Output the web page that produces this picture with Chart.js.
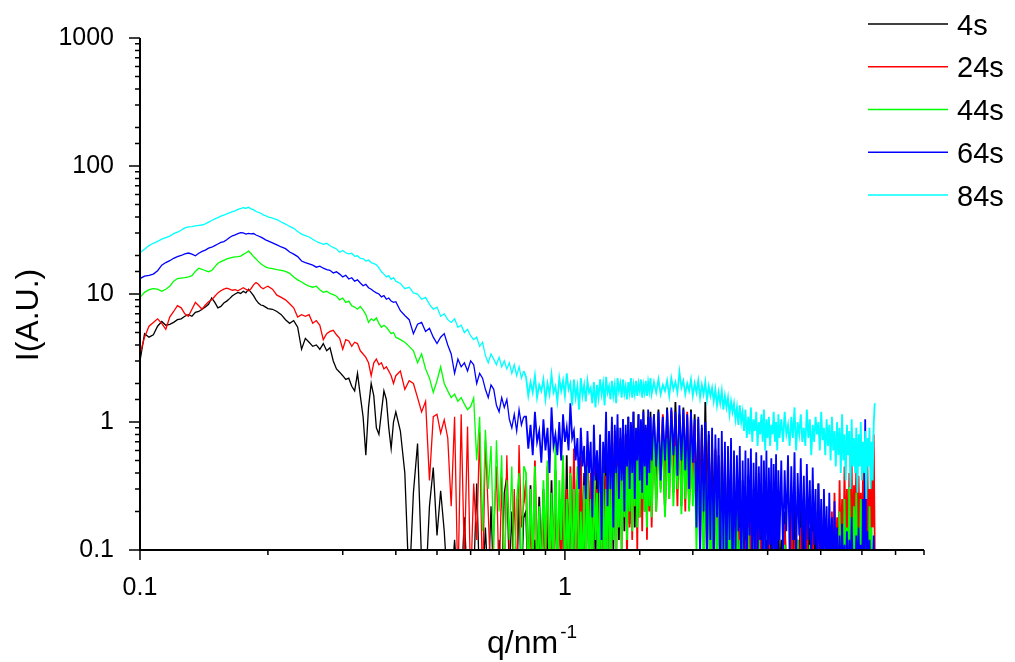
<!DOCTYPE html>
<html>
<head>
<meta charset="utf-8">
<title>I(A.U.) vs q</title>
<script src="https://cdn.jsdelivr.net/npm/chart.js@4.4.1/dist/chart.umd.min.js"></script>
<style>
  html, body { margin: 0; padding: 0; background: #fff; }
  #wrap { width: 1015px; height: 662px; position: relative; }
</style>
</head>
<body>
<div id="wrap"><canvas id="saxsChart"></canvas></div>
<script>
// ── Data ────────────────────────────────────────────
// q grid (nm^-1), shared by every frame
const qValues = [
  0.1, 0.1025, 0.105, 0.1075, 0.11, 0.1125, 0.115, 0.1175, 0.12, 0.1225,
  0.125, 0.1275, 0.13, 0.1325, 0.135, 0.1375, 0.14, 0.1425, 0.145, 0.1475,
  0.15, 0.1525, 0.155, 0.1575, 0.16, 0.1625, 0.165, 0.1675, 0.17, 0.1725,
  0.175, 0.1775, 0.18, 0.1825, 0.185, 0.1875, 0.19, 0.1925, 0.195, 0.1975,
  0.2,
  0.205, 0.21, 0.215, 0.22, 0.225, 0.23, 0.235, 0.24, 0.245, 0.25,
  0.255, 0.26, 0.265, 0.27, 0.275, 0.28, 0.285, 0.29, 0.295, 0.3,
  0.305, 0.31, 0.315, 0.32, 0.325, 0.33, 0.335, 0.34, 0.345, 0.35,
  0.355, 0.36, 0.365, 0.37, 0.375, 0.38, 0.385, 0.39, 0.395, 0.4,
  0.41, 0.42, 0.43, 0.44, 0.45, 0.46, 0.47, 0.48, 0.49, 0.5,
  0.51, 0.52, 0.53, 0.54, 0.55, 0.56, 0.57, 0.58, 0.59, 0.6,
  0.61, 0.62, 0.63, 0.64, 0.65, 0.66, 0.67, 0.68, 0.69, 0.7,
  0.71, 0.72, 0.73, 0.74, 0.75, 0.76, 0.77, 0.78, 0.79, 0.8,
  // noisy part, finer steps
  0.81, 0.82, 0.83, 0.84, 0.85, 0.86, 0.87, 0.88, 0.89, 0.90,
  0.91, 0.92, 0.93, 0.94, 0.95, 0.96, 0.97, 0.98, 0.99, 1.00,
  1.01, 1.02, 1.03, 1.04, 1.05, 1.06, 1.07, 1.08, 1.09, 1.10,
  1.11, 1.12, 1.13, 1.14, 1.15, 1.16, 1.17, 1.18, 1.19, 1.20,
  1.21, 1.22, 1.23, 1.24, 1.25, 1.26, 1.27, 1.28, 1.29, 1.30,
  1.31, 1.32, 1.33, 1.34, 1.35, 1.36, 1.37, 1.38, 1.39, 1.40,
  1.41, 1.42, 1.43, 1.44, 1.45, 1.46, 1.47, 1.48, 1.49, 1.50,
  1.51, 1.52, 1.53, 1.54, 1.55, 1.56, 1.57, 1.58, 1.59, 1.60,
  1.62, 1.64, 1.66, 1.68, 1.70, 1.72, 1.74, 1.76, 1.78, 1.80,
  1.82, 1.84, 1.86, 1.88, 1.90, 1.92, 1.94, 1.96, 1.98, 2.00,
  2.02, 2.04, 2.06, 2.08, 2.10, 2.12, 2.14, 2.16, 2.18, 2.20,
  2.22, 2.24, 2.26, 2.28, 2.30, 2.32, 2.34, 2.36, 2.38, 2.40,
  2.42, 2.44, 2.46, 2.48, 2.50, 2.52, 2.54, 2.56, 2.58, 2.60,
  2.62, 2.64, 2.66, 2.68, 2.70, 2.72, 2.74, 2.76, 2.78, 2.80,
  2.82, 2.84, 2.86, 2.88, 2.90, 2.92, 2.94, 2.96, 2.98, 3.00,
  3.02, 3.04, 3.06, 3.08, 3.10, 3.12, 3.14, 3.16, 3.18, 3.20,
  3.23, 3.26, 3.29, 3.32, 3.35, 3.38, 3.41, 3.44, 3.47, 3.50,
  3.53, 3.56, 3.59, 3.62, 3.65, 3.68, 3.71, 3.74, 3.77, 3.80,
  3.83, 3.86, 3.89, 3.92, 3.95, 3.98, 4.01, 4.04, 4.07, 4.10,
  4.13, 4.16, 4.19, 4.22, 4.25, 4.28, 4.31, 4.34, 4.37, 4.40,
  4.43, 4.46, 4.49, 4.52, 4.55, 4.58, 4.61, 4.64, 4.67, 4.70,
  4.73, 4.76, 4.79, 4.82, 4.85, 4.88, 4.91, 4.94, 4.97, 5.00,
  5.03, 5.06, 5.09, 5.12, 5.15, 5.18, 5.21, 5.24, 5.27, 5.30,
  5.33, 5.36,
];

// intensities (values below 0.1 fall off the bottom of the plot)
const int4s = [
  3.0, 4.9, 4.6, 4.8, 5.6, 6.1, 5.7, 5.8, 6.0, 6.3,
  6.4, 6.7, 6.9, 6.7, 7.2, 7.3, 7.6, 7.9, 8.3, 9.3,
  8.6, 7.8, 8.0, 8.5, 8.8, 9.2, 9.7, 10.0, 10.3, 10.1,
  10.5, 10.2, 10.9, 10.3, 9.7, 9.0, 8.5, 8.2, 8.1, 7.9,
  7.7,
  7.6, 7.3, 6.9, 6.3, 5.9, 6.2, 5.5, 3.7, 4.5, 4.2,
  3.9, 4.0, 3.7, 4.1, 3.6, 3.8, 3.0, 2.6, 2.45, 2.3,
  2.15, 2.2, 1.9, 1.75, 2.4, 1.6, 1.1, 0.55, 1.3, 2.0,
  1.6, 0.9, 0.8, 1.2, 1.75, 1.5, 0.9, 0.62, 1.0, 1.2,
  0.85, 0.40, 0.05, 0.28, 0.68, 0.08, 0.05, 0.22, 0.44, 0.13,
  0.29, 0.14, 0.05, 0.05, 0.12, 0.05, 0.05, 0.18, 0.05, 0.05,
  0.06, 0.33, 0.05, 0.05, 0.15, 0.05, 0.22, 0.05, 0.05, 0.12,
  0.05, 0.28, 0.38, 0.06, 0.20, 0.05, 0.05, 0.25, 0.05, 0.18,
  0.20, 0.05, 0.32, 0.05, 0.12, 0.05, 0.26, 0.07, 0.30, 0.05,
  0.18, 0.05, 0.35, 0.06, 0.42, 0.05, 0.25, 0.08, 0.30, 0.05,
  0.55, 0.06, 0.38, 0.05, 0.45, 0.09, 0.28, 0.05, 0.50, 0.07,
  0.40, 0.05, 0.60, 0.12, 0.35, 0.06, 0.55, 0.08, 0.45, 0.10,
  0.70, 0.07, 0.50, 0.12, 0.85, 0.09, 0.60, 0.15, 1.00, 0.10,
  0.70, 0.18, 0.90, 0.12, 0.75, 0.20, 1.05, 0.14, 0.80, 0.22,
  1.10, 0.16, 0.95, 0.25, 1.20, 0.15, 0.85, 0.30, 1.15, 0.18,
  1.00, 0.28, 1.25, 0.20, 0.90, 0.35, 1.10, 0.22, 1.20, 0.30,
  1.15, 0.25, 1.25, 0.35, 1.10, 0.20, 1.30, 0.40, 1.20, 0.28,
  1.43, 0.35, 1.15, 0.22, 1.30, 0.40, 1.10, 0.21, 1.25, 0.30,
  1.15, 0.20, 1.05, 0.25, 0.90, 0.15, 1.43, 0.22, 0.80, 0.12,
  0.70, 0.18, 0.60, 0.08, 0.55, 0.12, 0.45, 0.06, 0.50, 0.09,
  0.38, 0.05, 0.48, 0.07, 0.30, 0.05, 0.42, 0.06, 0.25, 0.05,
  0.35, 0.05, 0.22, 0.06, 0.38, 0.05, 0.18, 0.05, 0.30, 0.06,
  0.20, 0.05, 0.28, 0.05, 0.15, 0.05, 0.25, 0.06, 0.12, 0.05,
  0.22, 0.05, 0.16, 0.05, 0.30, 0.06, 0.12, 0.05, 0.20, 0.05,
  0.12, 0.05, 0.20, 0.05, 0.10, 0.05, 0.15, 0.05, 0.22, 0.05,
  0.12, 0.05, 0.33, 0.06, 0.18, 0.05, 0.28, 0.05, 0.15, 0.05,
  0.30, 0.06, 0.20, 0.05, 0.33, 0.05, 0.12, 0.05, 0.25, 0.05,
  0.10, 0.05, 0.14, 0.05, 0.11, 0.05, 0.08, 0.05, 0.12, 0.05,
  0.06, 0.05, 0.10, 0.05, 0.05, 0.05, 0.09, 0.05, 0.12, 0.05,
  0.05, 0.05, 0.08, 0.05, 0.11, 0.05, 0.05, 0.05, 0.07, 0.05,
  0.10, 0.05, 0.05, 0.05, 0.08, 0.05, 0.06, 0.05, 0.09, 0.05,
  0.05, 0.05,
];

const int24s = [
  3.4, 4.6, 5.6, 6.0, 6.4, 5.9, 5.3, 6.6, 7.3, 8.1,
  7.8, 7.0, 6.7, 7.6, 8.6, 8.1, 7.6, 8.2, 8.7, 9.0,
  9.6, 10.2, 10.6, 10.9, 11.1, 10.9, 10.7, 10.8, 10.6, 10.9,
  11.2, 10.9, 10.6, 11.0, 11.8, 12.3, 11.9, 11.3, 11.0, 11.3,
  11.5,
  10.9, 9.8, 9.4, 9.0, 8.4, 7.8, 6.6, 6.9, 6.7, 6.9,
  5.9, 6.2, 5.7, 4.4, 4.9, 5.1, 5.2, 4.8, 4.5, 3.7,
  4.4, 4.3, 3.9, 4.2, 4.1, 3.6, 3.4, 3.2, 2.9, 2.3,
  2.9, 3.1, 2.8, 2.9, 2.6, 2.7, 2.5, 2.3, 2.0, 2.3,
  2.5, 1.8, 2.1, 2.0, 1.55, 1.2, 1.45, 0.35, 1.1, 1.15,
  0.82, 1.04, 0.75, 0.22, 1.1, 0.05, 1.15, 0.08, 0.92, 0.05,
  0.33, 0.12, 0.84, 0.05, 0.72, 0.20, 0.05, 0.14, 0.45, 0.05,
  0.37, 0.05, 0.55, 0.10, 0.05, 0.30, 0.05, 0.66, 0.15, 0.23,
  0.35, 0.05, 0.20, 0.05, 0.50, 0.08, 0.15, 0.05, 0.28, 0.05,
  0.45, 0.06, 0.12, 0.05, 0.40, 0.05, 0.25, 0.07, 0.53, 0.05,
  0.30, 0.10, 0.45, 0.05, 0.62, 0.08, 0.35, 0.05, 0.55, 0.12,
  0.28, 0.05, 0.66, 0.09, 0.40, 0.05, 0.50, 0.14, 0.30, 0.06,
  0.45, 0.10, 0.60, 0.05, 0.38, 0.12, 0.70, 0.08, 0.50, 0.15,
  0.85, 0.06, 0.55, 0.18, 0.75, 0.10, 0.45, 0.20, 0.80, 0.08,
  0.60, 0.15, 0.95, 0.12, 0.65, 0.22, 0.85, 0.10, 0.70, 0.18,
  1.00, 0.14, 0.75, 0.25, 0.90, 0.12, 1.05, 0.20, 0.80, 0.15,
  1.00, 0.20, 0.85, 0.30, 1.15, 0.19, 0.95, 0.25, 1.24, 0.35,
  0.90, 0.22, 1.10, 0.28, 1.00, 0.20, 1.20, 0.22, 0.85, 0.30,
  0.95, 0.15, 0.75, 0.10, 0.85, 0.20, 0.60, 0.08, 0.70, 0.15,
  0.55, 0.06, 0.62, 0.12, 0.45, 0.05, 0.50, 0.10, 0.60, 0.05,
  0.35, 0.08, 0.28, 0.05, 0.22, 0.05, 0.30, 0.06, 0.15, 0.05,
  0.25, 0.05, 0.12, 0.05, 0.20, 0.05, 0.35, 0.06, 0.10, 0.05,
  0.18, 0.05, 0.40, 0.05, 0.12, 0.05, 0.22, 0.05, 0.08, 0.05,
  0.16, 0.05, 0.10, 0.05, 0.14, 0.05, 0.20, 0.05, 0.09, 0.05,
  0.10, 0.05, 0.16, 0.05, 0.08, 0.05, 0.20, 0.05, 0.12, 0.05,
  0.06, 0.05, 0.15, 0.05, 0.10, 0.05, 0.22, 0.05, 0.08, 0.05,
  0.14, 0.05, 0.05, 0.05, 0.12, 0.05, 0.18, 0.05, 0.07, 0.05,
  0.15, 0.05, 0.10, 0.05, 0.20, 0.05, 0.28, 0.06, 0.18, 0.05,
  0.35, 0.08, 0.25, 0.06, 0.45, 0.10, 0.30, 0.07, 0.40, 0.12,
  0.50, 0.08, 0.32, 0.15, 0.45, 0.10, 0.38, 0.12, 0.28, 0.08,
  0.42, 0.14, 0.35, 0.10, 0.48, 0.12, 0.30, 0.09, 0.40, 0.15,
  0.80, 0.10,
];

const int44s = [
  9.4, 10.3, 10.8, 11.0, 10.9, 10.5, 10.9, 11.5, 12.6, 13.2,
  13.3, 13.4, 13.6, 13.9, 15.0, 15.9, 15.6, 15.2, 14.9, 15.3,
  16.3, 17.4, 17.9, 18.3, 18.8, 19.1, 19.3, 19.5, 19.6, 19.8,
  20.4, 20.9, 21.6, 20.7, 19.6, 18.8, 17.9, 17.2, 16.7, 16.3,
  16.0,
  15.8, 15.5, 15.3, 15.0, 14.5, 13.6, 12.9, 12.4, 11.9, 11.5,
  11.3, 11.5, 10.8, 10.3, 10.5, 10.1, 9.9, 9.6, 9.0, 9.3,
  8.6, 8.8, 8.1, 7.9, 7.6, 8.0, 7.5, 6.9, 6.0, 6.4,
  6.2, 6.5, 5.9, 5.5, 5.7, 5.5, 5.2, 4.9, 5.0, 4.6,
  4.4, 4.2, 3.9, 3.6, 2.9, 3.4, 2.6, 2.2, 1.7, 2.1,
  2.7, 2.0, 1.75, 1.55, 1.65, 1.45, 1.55, 1.38, 1.25, 1.32,
  1.54, 0.50, 1.10, 0.14, 0.87, 0.30, 0.65, 0.10, 0.72, 0.20,
  0.55, 0.05, 0.35, 0.12, 0.45, 0.05, 0.25, 0.40, 0.05, 0.45,
  0.40, 0.05, 0.30, 0.08, 0.45, 0.05, 0.22, 0.05, 0.35, 0.10,
  0.50, 0.05, 0.28, 0.06, 0.69, 0.05, 0.35, 0.12, 0.55, 0.05,
  0.25, 0.08, 0.40, 0.05, 0.30, 0.10, 0.45, 0.05, 0.20, 0.06,
  0.32, 0.05, 0.45, 0.09, 0.25, 0.05, 0.38, 0.12, 0.28, 0.05,
  0.35, 0.08, 0.42, 0.05, 0.30, 0.10, 0.50, 0.06, 0.38, 0.12,
  0.55, 0.08, 0.45, 0.15, 0.60, 0.10, 0.40, 0.18, 0.65, 0.12,
  0.50, 0.20, 0.70, 0.14, 0.55, 0.22, 0.75, 0.15, 0.60, 0.18,
  0.80, 0.25, 0.65, 0.20, 0.72, 0.15, 0.85, 0.22, 0.70, 0.18,
  0.80, 0.20, 0.70, 0.28, 0.88, 0.18, 0.75, 0.25, 0.91, 0.22,
  0.65, 0.30, 0.85, 0.19, 0.78, 0.25, 0.60, 0.20, 0.72, 0.22,
  0.48, 0.10, 0.40, 0.15, 0.45, 0.06, 0.35, 0.12, 0.42, 0.05,
  0.30, 0.10, 0.38, 0.05, 0.28, 0.08, 0.48, 0.05, 0.25, 0.07,
  0.32, 0.05, 0.20, 0.05, 0.15, 0.05, 0.22, 0.05, 0.12, 0.05,
  0.18, 0.05, 0.10, 0.05, 0.15, 0.05, 0.08, 0.05, 0.13, 0.05,
  0.06, 0.05, 0.12, 0.05, 0.09, 0.05, 0.14, 0.05, 0.06, 0.05,
  0.10, 0.05, 0.05, 0.05, 0.12, 0.05, 0.07, 0.05, 0.10, 0.05,
  0.08, 0.05, 0.11, 0.05, 0.05, 0.05, 0.10, 0.05, 0.07, 0.05,
  0.12, 0.05, 0.05, 0.05, 0.09, 0.05, 0.06, 0.05, 0.11, 0.05,
  0.05, 0.05, 0.08, 0.05, 0.10, 0.05, 0.05, 0.05, 0.12, 0.05,
  0.06, 0.05, 0.09, 0.05, 0.05, 0.05, 0.14, 0.05, 0.08, 0.05,
  0.20, 0.06, 0.12, 0.05, 0.25, 0.07, 0.15, 0.05, 0.31, 0.08,
  0.18, 0.05, 0.22, 0.06, 0.28, 0.05, 0.15, 0.07, 0.25, 0.05,
  0.20, 0.06, 0.30, 0.05, 0.12, 0.05, 0.22, 0.06, 0.15, 0.05,
  0.10, 0.05,
];

const int64s = [
  13.2, 13.8, 14.0, 14.3, 15.2, 16.8, 17.6, 18.2, 19.0, 19.6,
  20.0, 20.6, 20.9, 20.5, 19.9, 20.8, 21.5, 22.0, 22.8, 23.2,
  23.9, 24.6, 25.3, 25.7, 26.5, 27.6, 28.5, 29.0, 29.6, 30.2,
  30.0, 29.4, 29.8, 29.5, 29.7, 28.9, 28.4, 27.8, 27.2, 26.5,
  26.0,
  25.1, 24.2, 23.3, 22.6, 21.3, 20.5, 19.6, 18.1, 17.6, 17.2,
  16.8, 16.2, 16.5, 15.9, 15.5, 15.3, 14.6, 14.9, 14.3, 13.6,
  14.0, 13.1, 13.4, 12.6, 12.9, 12.2, 11.6, 11.9, 11.2, 10.9,
  10.5, 10.2, 10.0, 9.5, 9.7, 9.1, 9.3, 8.8, 8.6, 8.7,
  7.4, 6.8, 6.3, 4.9, 5.8, 6.0, 5.1, 5.4, 4.6, 4.1,
  4.6, 4.9, 4.0, 3.4, 2.4, 3.1, 2.7, 2.9, 2.5, 3.0,
  2.8, 2.0, 2.4, 2.2, 1.8, 1.55, 1.95, 1.80, 1.35, 1.20,
  1.55, 1.30, 1.50, 1.05, 0.90, 1.15, 0.85, 1.25, 0.95, 1.10,
  1.10, 0.62, 0.95, 0.55, 1.20, 0.70, 0.85, 0.48, 1.05, 0.60,
  0.90, 0.40, 1.30, 0.65, 0.80, 0.55, 1.00, 0.50, 1.15, 0.70,
  0.90, 0.60, 1.40, 0.75, 0.85, 0.50, 0.75, 0.30, 0.90, 0.45,
  0.65, 0.25, 0.85, 0.40, 0.70, 0.18, 0.95, 0.35, 0.60, 0.28,
  0.80, 0.12, 0.70, 0.40, 1.20, 0.22, 0.85, 0.30, 1.10, 0.15,
  0.95, 0.40, 1.15, 0.25, 0.90, 0.35, 1.05, 0.20, 0.95, 0.45,
  1.10, 0.30, 1.00, 0.40, 1.20, 0.25, 0.90, 0.50, 1.15, 0.35,
  1.05, 0.28, 1.20, 0.45, 0.95, 0.32, 1.25, 0.40, 1.10, 0.50,
  1.15, 0.45, 1.20, 0.35, 1.10, 0.50, 1.25, 0.40, 1.30, 0.55,
  1.20, 0.38, 1.35, 0.50, 1.25, 0.42, 1.15, 0.30, 1.20, 0.48,
  1.05, 0.15, 1.10, 0.08, 0.95, 0.20, 1.00, 0.06, 0.85, 0.12,
  0.90, 0.07, 0.80, 0.18, 0.75, 0.05, 0.85, 0.10, 0.70, 0.06,
  0.65, 0.12, 0.75, 0.05, 0.60, 0.09, 0.55, 0.14, 0.65, 0.05,
  0.50, 0.10, 0.60, 0.06, 0.52, 0.13, 0.62, 0.05, 0.48, 0.09,
  0.58, 0.07, 0.45, 0.12, 0.55, 0.05, 0.50, 0.10, 0.60, 0.06,
  0.44, 0.11, 0.52, 0.05, 0.47, 0.09, 0.56, 0.05, 0.42, 0.12,
  0.50, 0.10, 0.42, 0.14, 0.55, 0.09, 0.45, 0.12, 0.58, 0.08,
  0.40, 0.13, 0.52, 0.10, 0.38, 0.07, 0.47, 0.12, 0.35, 0.08,
  0.44, 0.11, 0.30, 0.06, 0.33, 0.09, 0.25, 0.05, 0.30, 0.08,
  0.22, 0.05, 0.28, 0.07, 0.18, 0.05, 0.24, 0.06, 0.15, 0.05,
  0.13, 0.05, 0.16, 0.06, 0.11, 0.05, 0.14, 0.05, 0.12, 0.05,
  0.18, 0.06, 0.10, 0.05, 0.13, 0.05, 0.15, 0.06, 0.11, 0.05,
  0.25, 0.07, 1.05, 0.08, 0.14, 0.05, 0.12, 0.06, 0.10, 0.05,
  0.13, 0.05,
];

const int84s = [
  21.0, 22.4, 23.9, 24.9, 25.8, 26.8, 27.6, 28.3, 29.6, 30.4,
  31.5, 32.8, 33.5, 33.6, 34.0, 34.4, 34.6, 35.3, 36.4, 37.5,
  38.6, 39.5, 40.6, 41.4, 42.2, 43.1, 44.0, 44.6, 45.8, 46.5,
  47.2, 46.8, 47.6, 46.3, 45.6, 44.1, 43.5, 42.7, 41.5, 40.9,
  40.1,
  39.2, 38.1, 36.5, 35.2, 33.7, 32.6, 30.8, 29.4, 28.6, 27.9,
  26.8, 25.7, 25.1, 24.4, 24.9, 23.8, 23.1, 22.5, 21.2, 21.9,
  21.0, 20.6, 20.8, 19.7, 19.9, 19.0, 18.9, 18.1, 18.4, 17.6,
  17.3, 16.9, 16.0, 14.9, 14.3, 13.6, 13.9, 13.0, 13.4, 12.6,
  12.1, 11.0, 11.3, 10.2, 10.0, 9.1, 9.4, 8.3, 7.6, 7.9,
  6.7, 7.0, 6.3, 6.0, 6.4, 5.5, 5.7, 5.0, 5.3, 4.7,
  4.4, 4.6, 3.9, 4.2, 3.3, 2.9, 3.4, 3.1, 2.8, 3.2,
  2.7, 3.0, 2.6, 2.9, 2.4, 2.8, 2.3, 2.7, 2.2, 2.5,
  2.25, 1.60, 2.05, 1.70, 2.30, 1.55, 1.95, 1.75, 2.15, 1.50,
  2.00, 1.65, 2.35, 1.70, 1.90, 1.45, 2.20, 1.75, 2.10, 1.60,
  2.40, 1.80, 2.00, 1.35, 2.15, 1.55, 1.90, 1.25, 2.20, 1.60,
  1.95, 1.45, 2.10, 1.70, 1.85, 1.40, 2.05, 1.30, 1.95, 1.55,
  2.15, 1.65, 2.00, 1.35, 2.25, 1.70, 1.90, 1.50, 2.10, 1.60,
  1.95, 1.40, 2.20, 1.75, 2.00, 1.55, 2.15, 1.65, 1.90, 1.50,
  2.05, 1.70, 2.20, 1.55, 1.95, 1.65, 2.10, 1.60, 2.00, 1.75,
  2.15, 1.55, 1.95, 1.70, 2.10, 1.60, 2.05, 1.75, 2.20, 1.65,
  2.05, 1.70, 2.15, 1.65, 1.95, 1.75, 2.10, 1.60, 2.20, 1.80,
  2.05, 1.70, 2.45, 1.85, 2.10, 1.65, 2.00, 1.75, 2.15, 1.60,
  2.00, 1.70, 2.10, 1.55, 1.95, 1.65, 2.05, 1.50, 1.90, 1.60,
  1.85, 1.45, 1.80, 1.35, 1.70, 1.40, 1.75, 1.25, 1.60, 1.30,
  1.55, 1.15, 1.45, 1.20, 1.40, 1.05, 1.30, 0.95, 1.35, 1.00,
  1.20, 0.85, 1.25, 0.75, 1.10, 0.80, 1.30, 0.70, 1.05, 0.85,
  1.20, 0.65, 1.00, 0.80, 1.15, 0.70, 1.25, 0.60, 1.05, 0.75,
  1.10, 0.65, 0.95, 0.80, 1.20, 0.70, 1.00, 0.60, 1.15, 0.75,
  1.05, 0.70, 1.20, 0.80, 0.95, 0.65, 1.10, 0.75, 1.30, 0.60,
  1.00, 0.80, 1.15, 0.70, 0.90, 0.65, 1.25, 0.75, 1.05, 0.55,
  0.95, 0.70, 1.10, 0.80, 1.00, 0.60, 1.20, 0.72, 0.90, 0.55,
  1.05, 0.65, 0.95, 0.50, 1.10, 0.60, 0.85, 0.45, 1.00, 0.55,
  0.90, 0.40, 1.15, 0.50, 0.80, 0.35, 0.95, 0.55, 0.85, 0.30,
  1.05, 0.45, 0.75, 0.40, 0.90, 0.28, 0.80, 0.45, 1.00, 0.35,
  0.70, 0.40, 0.85, 0.25, 0.75, 0.45, 0.90, 0.30, 0.70, 0.35,
  0.95, 1.40,
];

const seriesLabels = ['4s', '24s', '44s', '64s', '84s'];
const seriesValues = [int4s, int24s, int44s, int64s, int84s];
const seriesColors = ['#000000', '#ff0000', '#00ff00', '#0000ff', '#00ffff'];

// labelled decades on each axis
const yTickLabels = [0.1, 1, 10, 100, 1000];
const xTickLabels = [0.1, 1];

const FONT = '"Liberation Sans", Arial, sans-serif';

function isDecade(v) {
  const l = Math.log10(v);
  return Math.abs(l - Math.round(l)) < 1e-6;
}

function labelFor(list, v) {
  const hit = list.find(t => Math.abs(v - t) / t < 1e-6);
  return hit !== undefined ? String(hit) : '';
}

// ── Axis lines, tick marks, titles, legend ─────────
const framePlugin = {
  id: 'frame',
  afterDraw(chart) {
    const { ctx, chartArea: area } = chart;
    const xs = chart.scales.x;
    const ys = chart.scales.y;

    ctx.save();
    ctx.strokeStyle = '#000';
    ctx.lineWidth = 2;
    ctx.beginPath();
    ctx.moveTo(area.left, area.top);
    ctx.lineTo(area.left, area.bottom);
    ctx.lineTo(area.right, area.bottom);
    ctx.stroke();

    ctx.lineWidth = 1.5;
    ctx.beginPath();
    ys.ticks.forEach(t => {
      const py = ys.getPixelForValue(t.value);
      const len = isDecade(t.value) ? 11 : 5;
      ctx.moveTo(area.left, py);
      ctx.lineTo(area.left - len, py);
    });
    xs.ticks.forEach(t => {
      const px = xs.getPixelForValue(t.value);
      const len = isDecade(t.value) ? 10 : 5;
      ctx.moveTo(px, area.bottom);
      ctx.lineTo(px, area.bottom + len);
    });
    ctx.stroke();

    // axis titles
    ctx.fillStyle = '#000';
    ctx.font = '32px ' + FONT;
    ctx.textBaseline = 'alphabetic';
    ctx.textAlign = 'center';
    ctx.save();
    ctx.translate(38, 315);
    ctx.rotate(-Math.PI / 2);
    ctx.fillText('I(A.U.)', 0, 0);
    ctx.restore();

    ctx.textAlign = 'left';
    const base = 'q/nm';
    const bw = ctx.measureText(base).width;
    const startX = 487;
    ctx.fillText(base, startX, 653);
    ctx.font = '19px ' + FONT;
    ctx.fillText('-1', startX + bw + 2, 638);

    // legend
    ctx.font = '29px ' + FONT;
    seriesLabels.forEach((label, k) => {
      const ly = 24 + k * 42.75;
      ctx.strokeStyle = seriesColors[k];
      ctx.lineWidth = 1.5;
      ctx.beginPath();
      ctx.moveTo(868, ly);
      ctx.lineTo(948, ly);
      ctx.stroke();
      ctx.fillText(label, 957, ly + 10.5);
    });
    ctx.restore();
  },
};

// ── Chart ───────────────────────────────────────────
const ctx = document.getElementById('saxsChart').getContext('2d');

new Chart(ctx, {
  type: 'line',
  data: {
    datasets: seriesLabels.map((label, k) => ({
      label,
      data: qValues.map((q, i) => ({ x: q, y: seriesValues[k][i] })),
      borderColor: seriesColors[k],
      backgroundColor: seriesColors[k],
      borderWidth: 1.3,
      pointRadius: 0,
      tension: 0,
      fill: false,
      order: seriesLabels.length - k,
      // the dense noisy tail reads as a nearly solid band in the original
      segment: {
        borderWidth: c => (c.p0.parsed.x >= 0.8 ? 1.8 : undefined),
      },
    })),
  },
  options: {
    responsive: true,
    maintainAspectRatio: false,
    animation: false,
    devicePixelRatio: 1,
    layout: { padding: { left: 0, right: 91, top: 38, bottom: 0 } },
    plugins: {
      legend: { display: false },
      tooltip: { enabled: false },
    },
    scales: {
      x: {
        type: 'logarithmic',
        min: 0.1,
        max: 7,
        grid: { display: false },
        border: { display: false },
        afterFit: s => { s.height = 112; },
        ticks: {
          autoSkip: false,
          maxRotation: 0,
          padding: 15,
          color: '#000',
          font: { family: FONT, size: 25 },
          callback: v => labelFor(xTickLabels, v),
        },
      },
      y: {
        type: 'logarithmic',
        min: 0.1,
        max: 1000,
        grid: { display: false },
        border: { display: false },
        afterFit: s => { s.width = 140; },
        ticks: {
          autoSkip: false,
          padding: 18,
          color: '#000',
          font: { family: FONT, size: 25 },
          callback: v => labelFor(yTickLabels, v),
        },
      },
    },
  },
  plugins: [framePlugin],
});
</script>
</body>
</html>
